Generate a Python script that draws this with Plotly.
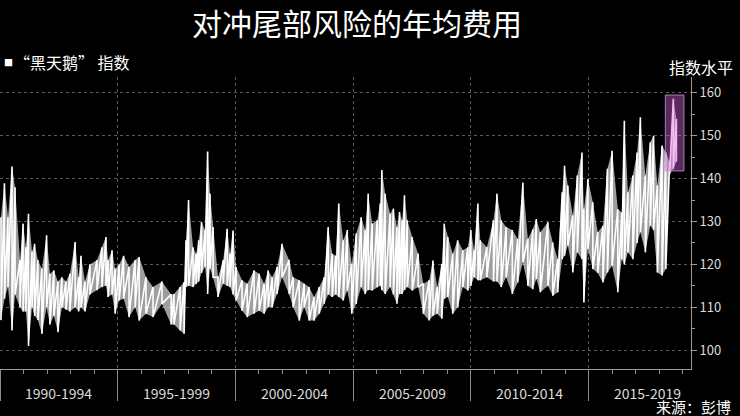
import plotly.graph_objects as go

# ---- data (decimal years, index high / low readings) ----
years = [1990.04, 1990.19, 1990.34, 1990.51, 1990.64, 1990.85, 1990.98, 1991.10, 1991.21, 1991.36,
         1991.47, 1991.61, 1991.78, 1991.98, 1992.12, 1992.29, 1992.46, 1992.63, 1992.80, 1992.97,
         1993.19, 1993.34, 1993.44, 1993.61, 1993.82, 1994.12, 1994.33, 1994.50, 1994.59, 1994.76,
         1994.89, 1995.06, 1995.25, 1995.48, 1995.74, 1995.91, 1996.20, 1996.50, 1996.88, 1997.27,
         1997.39, 1997.65, 1997.82, 1997.90, 1998.01, 1998.20, 1998.33, 1998.44, 1998.56, 1998.71,
         1998.82, 1998.92, 1999.05, 1999.26, 1999.48, 1999.65, 1999.77, 1999.90, 2000.03, 2000.28,
         2000.50, 2000.79, 2001.01, 2001.22, 2001.39, 2001.56, 2001.77, 2001.98, 2002.28, 2002.45,
         2002.71, 2002.92, 2003.13, 2003.34, 2003.56, 2003.77, 2003.94, 2004.11, 2004.26, 2004.39,
         2004.58, 2004.75, 2004.94, 2005.13, 2005.34, 2005.51, 2005.64, 2005.81, 2006.02, 2006.15,
         2006.22, 2006.36, 2006.57, 2006.71, 2006.86, 2006.97, 2007.08, 2007.18, 2007.30, 2007.51,
         2007.76, 2007.98, 2008.23, 2008.39, 2008.57, 2008.77, 2008.87, 2009.02, 2009.23, 2009.44,
         2009.66, 2009.87, 2010.00, 2010.14, 2010.30, 2010.40, 2010.68, 2010.96, 2011.11, 2011.29,
         2011.50, 2011.76, 2011.99, 2012.21, 2012.42, 2012.63, 2012.78, 2012.95, 2013.27, 2013.48,
         2013.69, 2013.88, 2013.98, 2014.12, 2014.33, 2014.52, 2014.72, 2014.80, 2014.97, 2015.18,
         2015.39, 2015.61, 2015.80, 2016.00, 2016.24, 2016.41, 2016.52, 2016.67, 2016.88, 2017.06,
         2017.20, 2017.41, 2017.62, 2017.76, 2017.92, 2018.12, 2018.28, 2018.44, 2018.60, 2018.73]

index_high = [131.0, 138.9, 131.0, 142.8, 138.0, 121.0, 129.5, 124.0, 131.8, 123.0,
              124.8, 121.0, 119.0, 126.8, 117.8, 118.6, 116.0, 117.0, 116.0, 117.8,
              125.2, 117.0, 122.0, 116.0, 120.0, 121.0, 124.0, 126.4, 121.0, 123.3,
              119.0, 120.0, 122.0, 119.4, 121.0, 121.7, 117.0, 114.7, 116.0, 113.0,
              113.1, 114.7, 115.9, 125.6, 135.0, 124.0, 122.5, 125.6, 129.9, 128.0,
              146.3, 136.5, 128.7, 117.0, 121.0, 128.3, 122.5, 127.9, 119.4, 116.3,
              115.5, 118.6, 117.8, 115.5, 118.6, 117.0, 119.4, 124.8, 121.0, 117.0,
              116.3, 115.5, 114.7, 112.4, 114.7, 117.0, 128.7, 122.5, 122.0, 134.2,
              125.6, 128.0, 120.1, 127.2, 131.0, 128.0, 136.5, 129.5, 130.3, 134.2,
              142.0, 136.5, 131.8, 133.0, 128.7, 132.2, 130.3, 136.1, 130.3, 126.4,
              122.5, 115.5, 116.3, 120.9, 114.7, 120.1, 129.5, 126.4, 122.5, 125.6,
              123.3, 124.0, 128.0, 123.3, 134.2, 125.6, 124.0, 130.3, 136.5, 130.3,
              128.7, 128.0, 125.9, 139.1, 125.9, 128.2, 130.6, 127.5, 129.8, 125.1,
              121.2, 136.8, 143.0, 138.4, 131.4, 140.7, 146.1, 133.0, 139.9, 134.5,
              127.5, 129.0, 142.3, 146.5, 132.9, 132.1, 153.5, 136.8, 140.7, 146.1,
              154.3, 140.7, 148.5, 150.0, 138.4, 147.7, 146.1, 144.0, 158.6, 153.9]

index_low = [107.0, 112.0, 114.7, 104.6, 113.0, 110.0, 109.0, 109.0, 101.0, 110.0,
             108.0, 107.0, 103.8, 110.0, 106.0, 108.0, 104.2, 110.0, 109.5, 109.0,
             110.0, 109.0, 110.0, 109.0, 113.0, 114.0, 114.7, 115.0, 112.4, 113.0,
             108.5, 111.6, 112.0, 107.7, 110.0, 106.9, 108.5, 107.7, 110.8, 106.0,
             106.0, 104.6, 103.8, 114.7, 115.0, 114.7, 115.5, 116.0, 118.0, 119.4,
             113.1, 119.0, 117.0, 112.4, 115.5, 115.0, 114.7, 113.0, 111.6, 109.2,
             107.7, 108.5, 109.2, 108.5, 110.0, 110.0, 113.1, 117.0, 113.1, 110.0,
             106.9, 110.0, 106.9, 106.9, 108.5, 110.8, 113.0, 112.4, 113.0, 112.4,
             111.6, 113.9, 108.5, 110.8, 114.7, 113.1, 114.0, 113.9, 114.7, 115.0,
             114.0, 113.1, 114.7, 113.0, 110.8, 113.1, 113.1, 114.0, 114.7, 113.9,
             114.7, 108.5, 106.9, 108.0, 108.5, 107.3, 112.0, 112.4, 108.5, 110.0,
             114.7, 113.9, 115.0, 117.0, 116.3, 116.3, 117.0, 116.0, 116.0, 114.7,
             117.0, 113.1, 115.8, 120.5, 115.0, 114.2, 116.6, 113.5, 115.0, 112.7,
             113.5, 121.2, 122.0, 124.4, 118.1, 122.8, 121.2, 111.1, 123.6, 118.9,
             118.0, 115.8, 118.1, 119.7, 113.5, 121.2, 120.0, 122.8, 121.2, 125.0,
             127.5, 122.8, 129.0, 128.0, 118.1, 117.4, 118.9, 141.0, 142.3, 144.0]

period_labels = ["1990-1994", "1995-1999", "2000-2004", "2005-2009", "2010-2014", "2015-2019"]
period_starts = [1990, 1995, 2000, 2005, 2010, 2015]
y_ticks = [100, 110, 120, 130, 140, 150, 160]

highlight_x = (2018.26, 2019.05)
highlight_y = (141.8, 159.5)

title_text = "对冲尾部风险的年均费用"
series_name = "“黑天鹅” 指数"
y_title = "指数水平"
source_text = "来源：彭博"

FONT = "Noto Sans CJK SC, Noto Sans, sans-serif"

fig = go.Figure()
# translucent band between the low and high readings (gives the dense look)
fig.add_trace(go.Scatter(x=years, y=index_low, mode="lines", line=dict(width=0, color="white"),
                         showlegend=False, hoverinfo="skip"))
fig.add_trace(go.Scatter(x=years, y=index_high, mode="lines", line=dict(width=0, color="white"),
                         fill="tonexty", fillcolor="rgba(255,255,255,0.62)",
                         showlegend=False, hoverinfo="skip"))
# each reading drawn as a high/low stroke joined to the next
xs, ys = [], []
for t, h, l in zip(years, index_high, index_low):
    xs += [t, t]
    ys += [h, l]
fig.add_trace(go.Scatter(x=xs, y=ys, mode="lines", name=series_name,
                         line=dict(color="white", width=1.6), showlegend=False,
                         hoverinfo="skip"))

fig.add_shape(type="rect", xref="x", yref="y",
              x0=highlight_x[0], x1=highlight_x[1], y0=highlight_y[0], y1=highlight_y[1],
              fillcolor="rgba(215,100,225,0.42)", line=dict(color="rgba(200,150,210,0.8)", width=1),
              layer="above")

grid_col = "#5a5a5a"
fig.update_layout(
    width=740, height=416,
    paper_bgcolor="black", plot_bgcolor="black",
    margin=dict(l=0, r=49, t=77, b=47),
    font=dict(family=FONT, color="#dcdcdc"),
    title=dict(text=title_text, x=357 / 740, xanchor="center", y=1 - 24 / 416, yanchor="middle",
               font=dict(size=30, color="white", family=FONT)),
    xaxis=dict(range=[1990, 2019.35], tickmode="array", tickvals=period_starts,
               showticklabels=False, ticks="outside", ticklen=31, tickcolor="#8a8a8a", tickwidth=1,
               showgrid=True, gridcolor=grid_col, griddash="dot", gridwidth=1,
               showline=True, linecolor="#9a9a9a", linewidth=1, zeroline=False,
               minor=dict(tickmode="linear", tick0=1990, dtick=1, ticks="outside", ticklen=4,
                          tickcolor="#8a8a8a", showgrid=False)),
    yaxis=dict(range=[95.6, 163.7], side="right", tickmode="array", tickvals=y_ticks,
               ticks="outside", ticklen=5, tickcolor="#9a9a9a",
               tickfont=dict(size=13, color="#dcdcdc", family=FONT),
               showgrid=True, gridcolor=grid_col, griddash="dot", gridwidth=1,
               showline=True, linecolor="#9a9a9a", linewidth=1, zeroline=False,
               minor=dict(tickmode="linear", tick0=95, dtick=5, ticks="outside", ticklen=3,
                          tickcolor="#9a9a9a", showgrid=False)),
)

annotations = []
for start, lab in zip(period_starts, period_labels):
    annotations.append(dict(x=start + 2.5, y=-0.082, xref="x", yref="paper", text=lab,
                            showarrow=False, xanchor="center", yanchor="middle",
                            font=dict(size=14, color="#dcdcdc", family=FONT)))
annotations.append(dict(x=0.003, y=1.051, xref="paper", yref="paper", text="■",
                        showarrow=False, xanchor="left", yanchor="middle",
                        font=dict(size=9, color="white", family=FONT)))
annotations.append(dict(x=0.018, y=1.051, xref="paper", yref="paper", text=series_name,
                        showarrow=False, xanchor="left", yanchor="middle",
                        font=dict(size=16, color="white", family=FONT)))
annotations.append(dict(x=1.015, y=1.034, xref="paper", yref="paper", text=y_title,
                        showarrow=False, xanchor="center", yanchor="middle",
                        font=dict(size=16, color="white", family=FONT)))
annotations.append(dict(x=1.061, y=-0.13, xref="paper", yref="paper", text=source_text,
                        showarrow=False, xanchor="right", yanchor="middle",
                        font=dict(size=15, color="white", family=FONT)))
fig.update_layout(annotations=annotations)

fig.write_html("out.html", config={"displayModeBar": False},
               post_script="document.body.style.margin='0';document.body.style.background='black';")
